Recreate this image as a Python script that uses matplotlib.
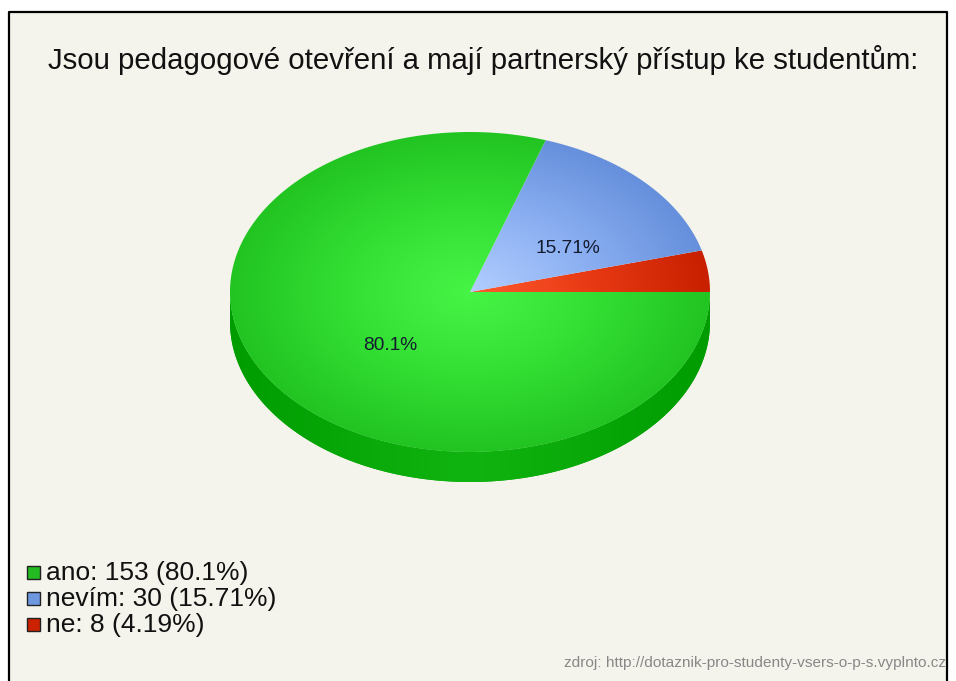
import numpy as np
import matplotlib
matplotlib.use("Agg")
import matplotlib.pyplot as plt
from matplotlib.patches import Polygon, Rectangle
from matplotlib.colors import LinearSegmentedColormap

# ---- data ----
title = "Jsou pedagogové otevření a mají partnerský přístup ke studentům:"
categories = ["ano", "nevím", "ne"]
counts = [153, 30, 8]
percent_labels = ["80.1%", "15.71%", "4.19%"]
source = "zdroj: http://dotaznik-pro-studenty-vsers-o-p-s.vyplnto.cz"

# drawing order (counter-clockwise from 3 o'clock): ne, nevím, ano
order = [2, 1, 0]

plt.rcParams['font.family'] = ['Liberation Sans', 'DejaVu Sans']

W, H = 956, 681
fig = plt.figure(figsize=(W / 100, H / 100), dpi=100, facecolor="white")
ax = fig.add_axes([0, 0, 1, 1])
ax.set_xlim(0, W)
ax.set_ylim(H, 0)
ax.axis("off")

# panel background with border (left, top, right)
bg = "#f4f4ec"
ax.add_patch(Rectangle((9.5, 11.5), 938, 700, facecolor=bg, edgecolor="none", zorder=0))
ax.plot([9.5, 9.5, 947.5, 947.5], [H + 5, 11.5, 11.5, H + 5], color="black", lw=1.6, zorder=1)

# pie geometry
cx, cy, rx, ry, depth = 470, 292, 240, 160, 30

top_cmaps = {
    0: LinearSegmentedColormap.from_list("g", ["#46f446", "#34e034", "#22c422"]),
    1: LinearSegmentedColormap.from_list("b", ["#b2ceff", "#8cb0f2", "#6690dc"]),
    2: LinearSegmentedColormap.from_list("r", ["#ff5a30", "#e83a14", "#c82000"]),
}

# radial gradient image
gx = np.linspace(cx - rx - 2, cx + rx + 2, 500)
gy = np.linspace(cy - ry - 2, cy + ry + depth + 2, 400)
GX, GY = np.meshgrid(gx, gy)
R = np.clip(np.sqrt(((GX - cx) / rx) ** 2 + ((GY - cy) / ry) ** 2), 0, 1)
extent = [gx[0], gx[-1], gy[-1], gy[0]]

total = sum(counts)

# side (front arc, visible from 180 to 360 degrees)
t = np.radians(np.linspace(180, 360, 200))
sx = cx + rx * np.cos(t)
sy = cy - ry * np.sin(t)
side_pts = np.concatenate([np.column_stack([sx, sy]),
                           np.column_stack([sx[::-1], sy[::-1] + depth])])
side = Polygon(side_pts, closed=True, facecolor="#08a808", edgecolor="none", zorder=2)
ax.add_patch(side)
side_cmap = LinearSegmentedColormap.from_list("s", ["#009c00", "#10b410", "#009c00"])
side_img = ax.imshow((GX - (cx - rx)) / (2 * rx), cmap=side_cmap, extent=extent,
                     origin="upper", zorder=2.1, aspect="auto", interpolation="bilinear")
side_img.set_clip_path(side)

start = 0.0
mids = {}
for idx in order:
    span = 360.0 * counts[idx] / total
    a = np.radians(np.linspace(start, start + span, max(int(span * 2), 4)))
    px = cx + rx * np.cos(a)
    py = cy - ry * np.sin(a)
    pts = np.vstack([[cx, cy], np.column_stack([px, py])])
    wedge = Polygon(pts, closed=True, facecolor="none", edgecolor="none", zorder=3)
    ax.add_patch(wedge)
    img = ax.imshow(R, cmap=top_cmaps[idx], extent=extent, origin="upper",
                    zorder=3, aspect="auto", interpolation="bilinear", vmin=0, vmax=1)
    img.set_clip_path(wedge)
    mids[idx] = start + span / 2
    start += span

# percent labels on larger slices
for idx in [1, 0]:
    m = np.radians(mids[idx])
    lx = cx + 0.48 * rx * np.cos(m) + 14
    ly = cy - 0.48 * ry * np.sin(m) + 9
    ax.text(lx, ly, percent_labels[idx], fontsize=13.8, color="#141c30",
            ha="center", va="center", zorder=5)

# title
ax.text(483, 60, title, fontsize=21.2, color="#111111", ha="center", va="center", zorder=5)

# legend
leg_colors = ["#22bb22", "#6e98e0", "#cc2200"]
for i, (cat, cnt, pl) in enumerate(zip(categories, counts, percent_labels)):
    y = 572 + i * 26
    ax.add_patch(Rectangle((27.5, y - 6.5), 13, 13, facecolor=leg_colors[i],
                           edgecolor="#222222", lw=1.0, zorder=5))
    ax.text(46, y + 1, f"{cat}: {cnt} ({pl})", fontsize=19, color="#111111",
            ha="left", va="center", zorder=5)

# source
ax.text(946, 663, source, fontsize=11.1, color="#888888", ha="right", va="center", zorder=5)

fig.savefig("out.png", dpi=100, facecolor="white")
